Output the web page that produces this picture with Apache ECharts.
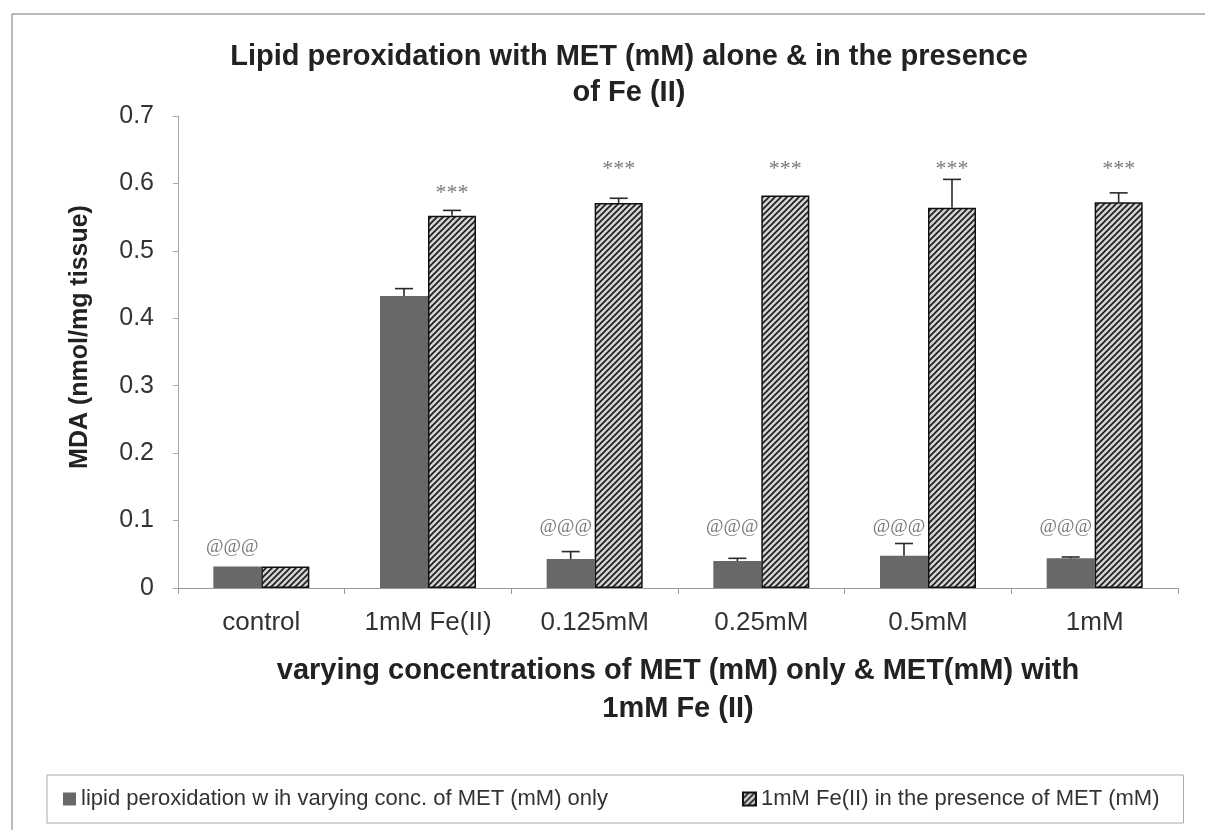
<!DOCTYPE html>
<html>
<head>
<meta charset="utf-8">
<script src="https://cdn.jsdelivr.net/npm/echarts@6/dist/echarts.min.js"></script>
<style>
  html, body { margin: 0; padding: 0; background: #fff; }
  #chart { width: 1205px; height: 830px; }
</style>
</head>
<body>
<div id="chart"></div>
<script>
// categories on the x axis
var categories = ['control', '1mM Fe(II)', '0.125mM', '0.25mM', '0.5mM', '1mM'];

// MET only (grey bars) and MET + 1mM Fe(II) (hatched bars), MDA nmol/mg tissue
var metOnly    = [0.032, 0.433, 0.043, 0.040, 0.048, 0.044];
var metOnlyErr = [0,     0.011, 0.011, 0.004, 0.018, 0.002];
var withFe     = [0.032, 0.552, 0.571, 0.582, 0.564, 0.572];
var withFeErr  = [0,     0.008, 0.007, 0,     0.042, 0.014];

// significance marks and the height (in axis units) they sit at
var atMarkY   = [0.061, null, 0.090, 0.090, 0.090, 0.090];
var starMarkY = [null, 0.586, 0.621, 0.621, 0.621, 0.621];

var legendNames = [
    'lipid peroxidation w ih varying conc. of MET (mM) only',
    '1mM Fe(II) in the presence of MET (mM)'
];

var yTicks = [0, 0.1, 0.2, 0.3, 0.4, 0.5, 0.6, 0.7];

var FONT = '"Liberation Sans", Arial, Helvetica, sans-serif';
var SERIF = '"Liberation Serif", "Times New Roman", serif';
var BAR_W = 48;

//斜线填充
function makeHatch() {
    var c = document.createElement('canvas');
    c.width = 6; c.height = 6;
    var ctx = c.getContext('2d');
    ctx.fillStyle = '#d2d2d2';
    ctx.fillRect(0, 0, 6, 6);
    ctx.strokeStyle = '#1b1b1b';
    ctx.lineWidth = 1.6;
    ctx.beginPath();
    ctx.moveTo(0, 6); ctx.lineTo(6, 0);
    ctx.moveTo(-1, 1); ctx.lineTo(1, -1);
    ctx.moveTo(5, 7); ctx.lineTo(7, 5);
    ctx.stroke();
    return c;
}

//误差线，只画上半
function errorBars(values, errs, offset) {
    var data = values.map(function (v, i) { return [i, v, errs[i]]; });
    return {
        type: 'custom',
        z: 5,
        silent: true,
        data: data,
        renderItem: function (params, api) {
            var e = api.value(2);
            if (!e) return null;
            var i = api.value(0), v = api.value(1);
            var base = api.coord([i, v]);
            var top = api.coord([i, v + e]);
            var x = base[0] + offset;
            var st = { stroke: '#2a2a2a', lineWidth: 1.6 };
            return {
                type: 'group',
                children: [
                    { type: 'line', shape: { x1: x, y1: base[1], x2: x, y2: top[1] }, style: st },
                    { type: 'line', shape: { x1: x - 9, y1: top[1], x2: x + 9, y2: top[1] }, style: st }
                ]
            };
        }
    };
}

function marks(ys, text, offset, font) {
    var data = [];
    ys.forEach(function (y, i) { if (y != null) data.push([i, y]); });
    return {
        type: 'scatter',
        symbolSize: 0,
        silent: true,
        z: 6,
        data: data,
        label: {
            show: true,
            position: 'inside',
            offset: [offset, 0],
            formatter: text,
            fontFamily: SERIF,
            fontSize: font,
            color: '#555'
        }
    };
}

var chart = echarts.init(document.getElementById('chart'));

chart.setOption({
    backgroundColor: '#fff',
    animation: false,
    title: {
        text: 'Lipid peroxidation with MET (mM) alone & in the presence\nof Fe (II)',
        left: 624,
        top: 34,
        textAlign: 'center',
        textStyle: {
            fontFamily: FONT,
            fontWeight: 'bold',
            fontSize: 29,
            lineHeight: 36,
            color: '#222'
        }
    },
    legend: {
        data: legendNames,
        left: 47,
        top: 775,
        padding: [13, 24, 13, 16],
        itemGap: 134,
        itemWidth: 13,
        itemHeight: 13,
        icon: 'rect',
        borderColor: '#aaa',
        borderWidth: 1,
        textStyle: { fontFamily: FONT, fontSize: 22, color: '#333' }
    },
    grid: { left: 178, right: 27, top: 116, bottom: 242 },
    xAxis: {
        type: 'category',
        data: categories,
        axisLine: { lineStyle: { color: '#999', width: 1 } },
        axisTick: { show: true, length: 6, lineStyle: { color: '#999' } },
        axisLabel: { fontFamily: FONT, fontSize: 26, color: '#333', margin: 22 },
        name: 'varying concentrations of MET (mM) only & MET(mM) with\n1mM Fe (II)',
        nameLocation: 'middle',
        nameGap: 64,
        nameTextStyle: {
            fontFamily: FONT,
            fontWeight: 'bold',
            fontSize: 29,
            lineHeight: 38,
            color: '#222'
        }
    },
    yAxis: {
        type: 'value',
        min: yTicks[0],
        max: yTicks[yTicks.length - 1],
        interval: 0.1,
        axisLine: { show: true, lineStyle: { color: '#aaa', width: 1 } },
        axisTick: { show: true, length: 5, lineStyle: { color: '#aaa' } },
        splitLine: { show: false },
        axisLabel: {
            fontFamily: FONT,
            fontSize: 25,
            color: '#333',
            margin: 24,
            formatter: function (v) { return +v.toFixed(1) + ''; }
        }
    },
    graphic: [
        {
            type: 'rect',
            silent: true,
            shape: { x: 12, y: 14, width: 1210, height: 830 },
            style: { fill: 'none', stroke: '#777', lineWidth: 1 }
        },
        {
            type: 'text',
            silent: true,
            x: 80,
            y: 337,
            rotation: Math.PI / 2,
            style: {
                text: 'MDA (nmol/mg tissue)',
                font: 'bold 25px ' + FONT,
                fill: '#222',
                textAlign: 'center',
                textVerticalAlign: 'middle'
            }
        }
    ],
    series: [
        {
            name: legendNames[0],
            type: 'bar',
            data: metOnly,
            barWidth: BAR_W,
            barGap: '0%',
            itemStyle: { color: '#686868' }
        },
        {
            name: legendNames[1],
            type: 'bar',
            data: withFe,
            barWidth: BAR_W,
            itemStyle: {
                color: { image: makeHatch(), repeat: 'repeat' },
                borderColor: '#111',
                borderWidth: 1.5
            }
        },
        errorBars(metOnly, metOnlyErr, -BAR_W / 2),
        errorBars(withFe, withFeErr, BAR_W / 2),
        marks(atMarkY, '@@@', -BAR_W / 2 - 5, 19),
        marks(starMarkY, '***', BAR_W / 2, 22)
    ]
});
</script>
</body>
</html>
